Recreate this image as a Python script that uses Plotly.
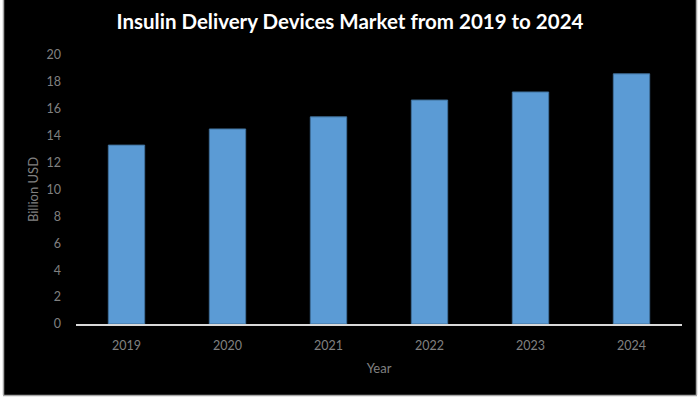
import plotly.graph_objects as go

years = ["2019", "2020", "2021", "2022", "2023", "2024"]
values = [13.3, 14.5, 15.4, 16.65, 17.25, 18.6]
y_ticks = [0, 2, 4, 6, 8, 10, 12, 14, 16, 18, 20]

L, R, T, B = 76, 18, 55, 76
W, H = 700, 400
pw, ph = W - L - R, H - T - B

def px(x):
    return (x - L) / pw

def py(y):
    return (H - B - y) / ph

fig = go.Figure(go.Bar(
    x=years, y=values,
    marker=dict(color="#5b9bd5", line=dict(color="#41719c", width=1)),
))

shapes = [
    dict(type="rect", xref="paper", yref="paper", x0=px(3), x1=px(697), y0=py(395), y1=py(-2),
         fillcolor="black", line=dict(width=0), layer="below"),
    dict(type="line", xref="paper", yref="paper", x0=px(3.5), x1=px(3.5), y0=py(395), y1=py(-2),
         line=dict(color="#a6a6a6", width=1.5), layer="below"),
    dict(type="line", xref="paper", yref="paper", x0=px(696.5), x1=px(696.5), y0=py(395), y1=py(-2),
         line=dict(color="#a6a6a6", width=1.5), layer="below"),
    dict(type="line", xref="paper", yref="paper", x0=px(3), x1=px(697), y0=py(395.5), y1=py(395.5),
         line=dict(color="#a6a6a6", width=1.5), layer="below"),
]

fig.update_layout(
    width=W, height=H,
    margin=dict(l=L, r=R, t=T, b=B, pad=0),
    paper_bgcolor="white",
    plot_bgcolor="black",
    shapes=shapes,
    bargap=0.64,
    showlegend=False,
    title=dict(text="<b>Insulin Delivery Devices Market from 2019 to 2024</b>",
               x=0.5, xref="container", xanchor="center", y=1 - 22 / H, yanchor="middle",
               font=dict(family="Lato", size=20.5, color="white")),
    xaxis=dict(showline=True, linecolor="#d9d9d9", linewidth=2, showgrid=False,
               ticks="", tickfont=dict(family="Lato", size=12.5, color="#808080"),
               ticklabelstandoff=9,
               title=dict(text="Year", font=dict(family="Lato", size=13, color="#808080"), standoff=12)),
    yaxis=dict(range=[0, 20], tickvals=y_ticks, showgrid=False, zeroline=False, showline=False,
               ticks="", tickfont=dict(family="Lato", size=12.5, color="#808080"),
               ticklabelstandoff=14,
               title=dict(text="Billion USD", font=dict(family="Lato", size=13, color="#808080"), standoff=4)),
)

fig.write_html("out.html")
